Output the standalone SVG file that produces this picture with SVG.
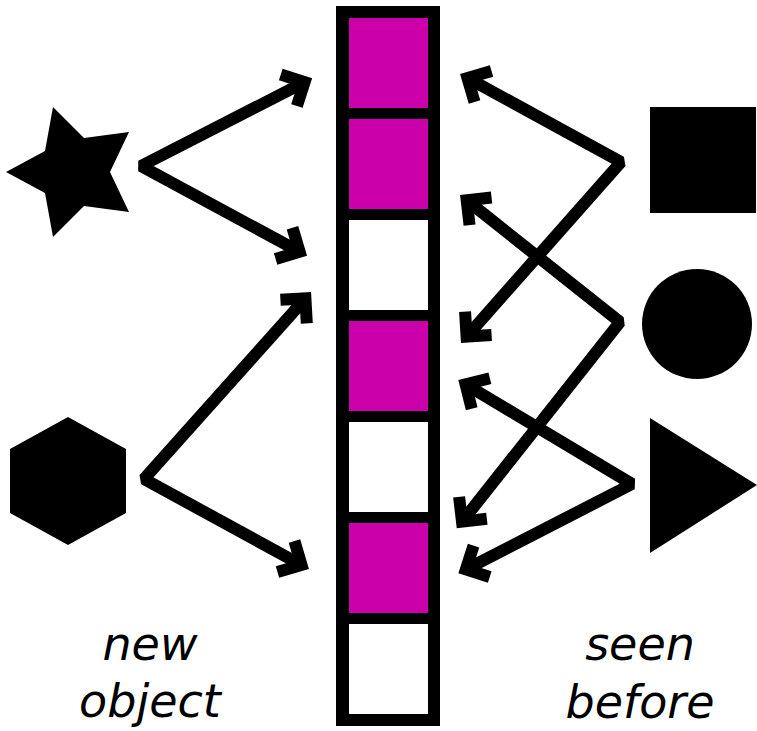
<svg xmlns="http://www.w3.org/2000/svg" width="757" height="731" viewBox="0 0 757 731">
<style>
.cell-on{fill:#cc00aa}
.cell-off{fill:#ffffff}
.conn{fill:none;stroke:#000;stroke-width:12;stroke-linejoin:bevel;stroke-linecap:butt}
.lbl{font-family:"DejaVu Sans",sans-serif;font-style:oblique;font-size:46px;fill:#000;text-anchor:middle}
</style>
<defs>
<marker id="head" markerUnits="userSpaceOnUse" markerWidth="60" markerHeight="60" refX="0" refY="0" orient="auto-start-reverse" style="overflow:visible">
<path d="M-17.7,-17.7 L0,0 L-17.7,17.7" fill="none" stroke="#000" stroke-width="12" stroke-linejoin="miter" stroke-linecap="butt"/>
</marker>
</defs>
<rect width="757" height="731" fill="#fff"/>
<g id="memory">
<rect x="336" y="6" width="104" height="720" fill="#000"/>
<rect class="cell-on" x="349" y="18" width="79" height="90"/>
<rect class="cell-on" x="349" y="119" width="79" height="90"/>
<rect class="cell-off" x="349" y="220" width="79" height="90"/>
<rect class="cell-on" x="349" y="321" width="79" height="90"/>
<rect class="cell-off" x="349" y="422" width="79" height="90"/>
<rect class="cell-on" x="349" y="523" width="79" height="90"/>
<rect class="cell-off" x="349" y="624" width="79" height="90"/>
</g>
<g id="star">
<polygon points="6,172 45,151 53,107 84,138 129,132 110,172 129,212 84,206 53,237 45,193" fill="#000"/>
</g>
<g id="hexagon">
<polygon points="68,417 126,449 126,513 68,545 10,513 10,449" fill="#000"/>
</g>
<g id="square">
<rect x="650" y="107" width="106" height="106" fill="#000"/>
</g>
<g id="circle">
<circle cx="697" cy="324" r="55" fill="#000"/>
</g>
<g id="triangle">
<polygon points="650,418 650,553 757,485" fill="#000"/>
</g>
<g id="connectors">
<path class="conn" d="M304.6,82.2 L141,166 L299.6,251.8" marker-start="url(#head)" marker-end="url(#head)"/>
<path class="conn" d="M305.4,298.4 L144,479 L301.5,565" marker-start="url(#head)" marker-end="url(#head)"/>
<path class="conn" d="M467.5,78 L621,162 L466.6,336.6" marker-start="url(#head)" marker-end="url(#head)"/>
<path class="conn" d="M466.7,200.3 L620,322 L462,521.7" marker-start="url(#head)" marker-end="url(#head)"/>
<path class="conn" d="M465.6,384.4 L632,484 L465.9,569.4" marker-start="url(#head)" marker-end="url(#head)"/>
</g>
<g id="label-new">
<text class="lbl" x="150" y="660">new</text>
<text class="lbl" x="150" y="717">object</text>
</g>
<g id="label-seen">
<text class="lbl" x="640" y="660">seen</text>
<text class="lbl" x="640" y="718">before</text>
</g>
</svg>
